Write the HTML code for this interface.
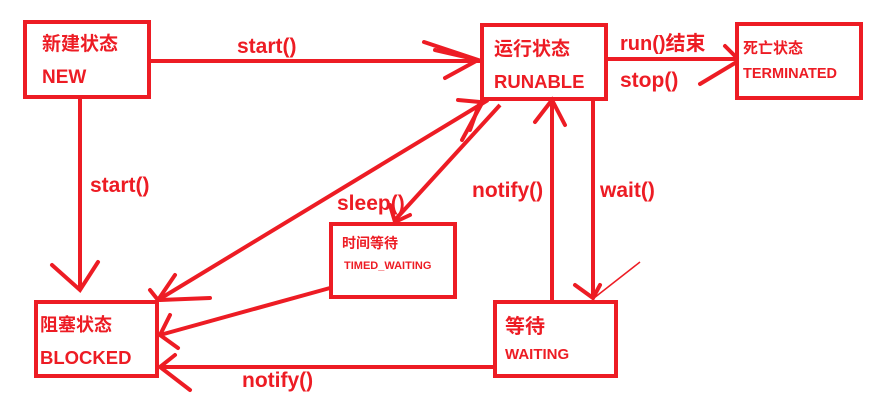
<!DOCTYPE html>
<html><head><meta charset="utf-8"><style>
html,body{margin:0;padding:0;background:#fff;}
svg{display:block}
text{fill:#ed1c24;font-family:"Liberation Sans","Noto Sans CJK SC",sans-serif;font-weight:bold}
</style></head><body>
<svg width="896" height="413" viewBox="0 0 896 413" xmlns="http://www.w3.org/2000/svg">
<g fill="none" stroke="#ed1c24" stroke-width="4">
<rect x="25" y="22" width="124" height="75"/>
<rect x="482" y="25" width="124" height="74"/>
<rect x="737" y="24" width="124" height="74"/>
<rect x="331" y="224" width="124" height="73"/>
<rect x="36" y="302" width="121" height="74"/>
<rect x="495" y="302" width="121" height="74"/>
<line x1="150" y1="61" x2="480" y2="61"/>
<line x1="80" y1="98" x2="80" y2="290"/>
<line x1="607" y1="59" x2="735" y2="59"/>
<line x1="552" y1="300" x2="552" y2="100"/>
<line x1="593" y1="100" x2="593" y2="298"/>
<line x1="158" y1="300" x2="488" y2="100"/>
<line x1="500" y1="105" x2="395" y2="220"/>
<line x1="330" y1="288" x2="160" y2="335"/>
<line x1="494" y1="367" x2="160" y2="367"/>
</g>
<g fill="none" stroke="#ed1c24" stroke-width="4" stroke-linecap="round">
<path d="M424 42 L478 60 L445 78"/><path d="M435 50 L470 58"/>
<path d="M52 265 L80 290 L98 262"/>
<path d="M700 84 L735 63"/><path d="M725 46 L737 58"/>
<path d="M535 122 L552 100 L565 125"/>
<path d="M575 285 L593 298 L600 285"/>
<path d="M458 100 L480 102 L470 130"/><path d="M482 103 L462 140"/>
<path d="M390 205 L395 222 L410 215"/>
<path d="M150 290 L158 300 L175 275"/><path d="M160 300 L210 298"/>
<path d="M170 315 L160 335 L178 348"/>
<path d="M175 355 L160 367 L190 390"/>
</g>
<line x1="640" y1="262" x2="594" y2="298" stroke="#ed1c24" stroke-width="1.5"/>
<text x="237" y="53" font-size="21">start()</text>
<text x="90" y="192" font-size="21">start()</text>
<text x="337" y="210" font-size="21">sleep()</text>
<text x="472" y="197" font-size="21">notify()</text>
<text x="600" y="197" font-size="21">wait()</text>
<text x="620" y="50" font-size="20">run()结束</text>
<text x="620" y="87" font-size="21">stop()</text>
<text x="242" y="387" font-size="21">notify()</text>
<text x="42" y="50" font-size="19">新建状态</text>
<text x="42" y="83" font-size="19">NEW</text>
<text x="494" y="55" font-size="19">运行状态</text>
<text x="494" y="88" font-size="18.5">RUNABLE</text>
<text x="743" y="53" font-size="15" font-weight="normal">死亡状态</text>
<text x="743" y="78" font-size="14.5">TERMINATED</text>
<text x="342" y="248" font-size="14" font-weight="normal">时间等待</text>
<text x="344" y="269" font-size="11">TIMED_WAITING</text>
<text x="40" y="331" font-size="18">阻塞状态</text>
<text x="40" y="364" font-size="18.5">BLOCKED</text>
<text x="505" y="333" font-size="20">等待</text>
<text x="505" y="359" font-size="15">WAITING</text>
</svg>
</body></html>
